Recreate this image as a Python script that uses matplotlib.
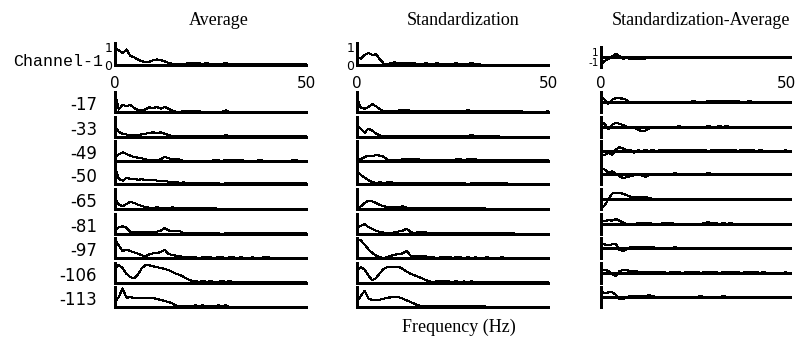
import numpy as np
import matplotlib
matplotlib.use("Agg")
import matplotlib.pyplot as plt

# frequency bins, 1 Hz
freq = np.arange(51)

channels = ["Channel-1", "-17", "-33", "-49", "-50", "-65", "-81", "-97", "-106", "-113"]

# normalised spectra (Average column)
average = [
    [.95, .8, .65, .85, .5, .42, .3, .2, .17, .18, .26, .3, .26, .2, .12, .06, .04, .04, .04, .1,
     .1, .1, .1, .04, .12, .04, .04, .04, .04, .12, .04, .04, .04, .04, .04, .04, .04, .04, .04, .04,
     .04, .04, .04, .04, .04, .04, .04, .04, .04, .04, .04],
    [1.1, .15, .44, .34, .44, .24, .12, .08, .16, .28, .24, .3, .2, .3, .2, .08, .02, 0, .05, .05,
     .05, .05, .05, 0, 0, 0, 0, 0, 0, .1, 0, 0, 0, 0, 0, 0, 0, 0, 0, 0,
     0, 0, 0, 0, 0, 0, 0, 0, 0, 0, 0],
    [.6, .32, .18, .15, .12, .1, .12, .16, .2, .24, .28, .24, .28, .2, .12, .04, .04, .04, .04, .04,
     .04, .04, .04, .04, .04, .04, .04, .04, .04, .12, .04, .04, .04, .04, .04, .04, .04, .04, .04, .04,
     .04, .04, .04, .04, .04, .04, .04, .04, .04, .04, .04],
    [.2, .4, .52, .42, .32, .24, .2, .16, .1, .05, .05, .05, .1, .26, .16, .12, .14, .08, 0, 0,
     0, 0, 0, 0, 0, 0, .05, .05, 0, .05, .05, .05, .05, .08, 0, 0, 0, 0, .08, 0,
     0, 0, 0, 0, 0, 0, 0, .08, 0, 0, 0],
    [1.05, .3, .2, .36, .32, .3, .26, .28, .24, .24, .26, .2, .2, .18, .14, .08, .12, .06, .1, .04,
     .04, .04, .04, .04, .04, .04, .04, .04, 0, .04, .04, .04, .04, .04, .04, .04, .04, .04, .04, .04,
     .04, .04, .04, .04, .04, .04, .04, .04, .04, .04, .04],
    [.6, .28, .16, .3, .44, .36, .26, .18, .12, .08, .05, .1, .05, .08, .05, .1, .05, .05, .08, .05,
     .05, .08, .05, .08, .05, .05, .05, 0, 0, 0, 0, 0, 0, 0, 0, 0, 0, 0, 0, 0,
     0, 0, 0, 0, 0, 0, 0, 0, 0, 0, 0],
    [.25, .4, .46, .38, .14, .14, .14, .14, .14, .14, .14, .14, .2, .36, .22, .16, .16, .16, .04, .04,
     .04, .04, .04, .04, .04, .04, .04, .04, 0, .04, .04, .04, .04, .04, .04, .04, .04, .04, .04, .04,
     .04, .04, .04, .04, .04, .04, .04, .04, .04, .04, .04],
    [1.1, .75, .42, .5, .42, .34, .26, .16, .1, .22, .28, .3, .36, .5, .24, .18, .14, .1, .06, .04,
     .04, .04, 0, .04, .04, .04, 0, .04, .04, 0, .04, .04, 0, .04, 0, 0, .04, 0, 0, .04,
     .04, 0, 0, 0, 0, 0, 0, 0, 0, 0, 0],
    [.9, 1.08, .9, .55, .36, .28, .5, .88, 1.08, 1.06, 1.0, .95, .9, .84, .78, .66, .56, .48, .36, .24,
     .14, .12, .06, .12, .06, .12, .06, .06, .12, .06, .12, .04, .04, .04, .04, .04, .04, .04, .04, .04,
     .04, .04, .04, .04, .04, .04, .04, .04, .04, .04, .04],
    [.3, .6, 1.12, .56, .58, .56, .54, .52, .54, .56, .54, .48, .42, .36, .3, .22, .08, .04, .04, .04,
     .04, .1, .04, .1, .04, .04, .04, .1, .04, .1, 0, 0, 0, 0, 0, 0, 0, 0, 0, 0,
     0, 0, 0, 0, 0, 0, 0, 0, 0, 0, 0],
]

# normalised spectra (Standardization column)
standardization = [
    [.45, .35, .55, .65, .55, .58, .3, .08, .02, .12, .14, .1, .1, .1, .1, .1, .04, .04, .1, .04,
     .04, .1, .04, .04, .04, .04, .1, .04, .04, .04, .12, .04, .04, 0, 0, 0, 0, 0, 0, 0,
     0, 0, 0, 0, 0, 0, 0, 0, 0, 0, 0],
    [.85, .24, .2, .3, .48, .34, .16, .04, .04, .08, .04, .1, .12, .1, .08, .04, .04, .04, .04, .04,
     .04, .04, .04, .04, .04, .04, .04, .04, .04, .12, .04, .04, .04, .04, .04, .04, .04, .04, .04, .04,
     .04, .04, .04, .04, 0, 0, 0, 0, 0, 0, .04],
    [.7, .5, .26, .5, .38, .2, .1, .04, .04, .08, .04, .04, .04, .04, .04, .04, .08, .04, .04, .04,
     .04, .04, .04, .08, .04, .04, .04, .04, .04, .04, .12, .04, .04, .04, .08, .04, .04, .04, 0, 0,
     0, 0, 0, 0, 0, 0, 0, 0, 0, 0, 0],
    [.04, .1, .24, .32, .28, .36, .32, .26, .06, .04, .04, .04, .1, .1, .1, .1, .1, .04, .04, .04,
     .04, .04, .04, .04, .04, .04, .1, .1, .04, .1, .1, .1, .04, .04, .04, .04, .04, .04, .04, .04,
     .04, .04, .04, .04, .04, .04, .04, .04, .04, .04, .04],
    [.8, .55, .38, .22, .12, .06, .1, .06, .1, .1, .04, .04, .04, .04, .04, .04, .04, .04, .04, .04,
     .08, .04, .04, .08, .04, .04, .04, .04, .04, 0, .04, .04, .04, .04, .04, .04, .04, .04, .04, .04,
     0, 0, 0, 0, 0, 0, 0, 0, 0, 0, 0],
    [.04, .16, .36, .5, .46, .36, .24, .16, .12, .12, .12, .12, .16, .08, .04, .04, .04, .04, .04, .04,
     .04, .04, .04, .04, .04, .04, .04, .04, .04, .04, .04, .04, .04, .08, 0, 0, 0, 0, 0, 0,
     0, 0, 0, 0, 0, 0, 0, 0, 0, 0, 0],
    [.36, .5, .58, .42, .3, .2, .12, .08, .04, .06, .1, .16, .2, .32, .12, .06, .1, .1, .1, .04,
     .04, .04, .04, .04, .04, .04, .04, .04, .04, .04, .04, .04, .04, .04, .04, .04, .04, .04, .04, .04,
     .04, .04, 0, 0, 0, 0, 0, 0, 0, 0, 0],
    [1.15, 1.05, .8, .52, .3, .14, .04, 0, .06, .14, .2, .24, .28, .44, .14, .1, .1, .1, .1, .04,
     .04, 0, .04, .04, .08, 0, .04, .04, 0, .04, 0, .04, 0, 0, .04, 0, 0, 0, .04, 0,
     0, 0, 0, 0, 0, 0, 0, 0, 0, 0, 0],
    [.7, .95, .8, .45, .16, .3, .6, .85, .96, .98, .98, .96, .84, .68, .56, .46, .38, .28, .18, .1,
     .06, .1, .1, .1, .1, .06, .1, .04, .1, .04, .1, .04, .04, .04, .04, .04, .04, .04, .04, .04,
     .04, .04, .04, .04, .04, .04, .04, .04, .04, .04, .04],
    [.3, .65, .98, .5, .42, .4, .44, .5, .56, .58, .58, .58, .5, .4, .3, .2, .1, .06, .04, .04,
     .04, .04, .04, .04, .04, .04, .04, .08, .04, .04, .08, .04, .04, .08, 0, 0, 0, 0, 0, 0,
     0, 0, 0, 0, 0, 0, 0, 0, 0, 0, 0],
]

# difference (Standardization - Average)
std_minus_avg = [
    [-1.4, -.8, -.4, .1, .65, .2, -.35, -.2, -.4, -.4, -.4, -.4, -.3, -.2, -.2, -.2, -.2, 0, -.2, -.2,
     -.2, -.2, -.2, -.2, 0, 0, 0, 0, 0, 0, 0, 0, 0, -.2, 0, 0, -.2, 0, -.2, 0,
     0, 0, 0, 0, 0, 0, 0, 0, 0, 0, 0],
    [1.2, .5, -.4, .5, .85, .8, .75, .4, -.2, -.2, -.2, -.2, -.2, 0, 0, 0, 0, 0, 0, 0,
     0, 0, 0, 0, 0, .2, 0, 0, 0, .2, .2, .2, .2, .2, .2, .2, .2, .2, 0, 0,
     .2, 0, 0, 0, 0, 0, 0, 0, 0, 0, 0],
    [1.2, .7, -.5, .5, .95, .7, .4, 0, -.2, -.2, -.6, -.9, -.8, -.3, -.2, -.2, 0, -.2, -.2, 0,
     -.2, .2, 0, 0, 0, 0, 0, 0, 0, .2, 0, 0, .2, 0, .2, 0, 0, 0, 0, 0,
     0, 0, 0, 0, 0, 0, 0, 0, 0, 0, 0],
    [-.7, -.9, -.4, -.8, .3, .85, .55, .2, .2, -.4, .2, 0, .2, 0, .2, 0, .2, .2, .2, .2,
     .2, .2, .2, .2, .2, .2, .2, .2, .2, 0, .2, .2, .2, .2, .2, .2, .2, 0, .2, .2,
     .2, .2, 0, .2, 0, 0, 0, 0, 0, 0, .2],
    [1.3, 1.0, .2, .6, .1, -.5, -.9, -.7, -.4, -.3, -.3, -.3, -.6, -.2, 0, 0, 0, 0, 0, 0,
     .2, 0, 0, 0, 0, 0, 0, 0, 0, .2, 0, 0, 0, 0, 0, 0, 0, 0, 0, 0,
     0, 0, 0, 0, 0, 0, 0, 0, 0, 0, 0],
    [-1.9, -1.4, 0, 1.2, 1.35, 1.3, 1.15, .8, .5, .5, .5, .45, .5, .2, 0, 0, -.2, -.2, 0, 0,
     0, 0, 0, 0, 0, 0, 0, 0, 0, 0, 0, 0, 0, 0, 0, 0, 0, 0, 0, 0,
     0, 0, 0, 0, 0, 0, 0, 0, 0, 0, 0],
    [.9, .6, .9, .7, 1.1, .7, .35, 0, 0, 0, .2, .2, .2, .2, 0, 0, 0, .2, .2, .2,
     0, 0, 0, 0, 0, 0, 0, 0, .2, .4, .2, .2, 0, .2, 0, .2, 0, 0, 0, 0,
     0, 0, 0, 0, 0, 0, 0, 0, 0, 0, 0],
    [1.0, .8, .6, .8, .85, -.4, -.65, -.3, .2, .2, .2, .2, .2, .2, .2, 0, 0, -.2, 0, 0,
     .2, 0, 0, -.2, -.2, -.2, -.2, -.2, 0, -.2, 0, -.2, 0, -.2, 0, 0, 0, 0, 0, 0,
     0, 0, 0, 0, 0, 0, 0, 0, 0, 0, 0],
    [.8, .6, .5, -.3, -.6, .4, .7, .6, .4, .4, .3, .2, .2, .2, .2, .2, .2, .2, 0, .2,
     .2, .2, 0, .2, .2, .2, .2, 0, .2, .2, .2, .2, 0, .2, .2, .2, .2, .2, 0, .2,
     .2, .2, .2, 0, .2, 0, 0, 0, 0, 0, .2],
    [1.3, .8, 1.0, 1.05, .5, -.4, -.5, 0, .2, .2, .2, .2, .2, .4, .2, 0, 0, 0, 0, 0,
     0, 0, 0, 0, 0, 0, 0, .2, 0, 0, 0, 0, 0, .2, 0, 0, 0, 0, 0, 0,
     0, 0, 0, 0, 0, 0, 0, 0, 0, 0, 0],
]

titles = ["Average", "Standardization", "Standardization-Average"]
columns = [average, standardization, std_minus_avg]

W, H = 798, 345
fig = plt.figure(figsize=(W / 100, H / 100), dpi=100)

# pixel layout of the panels
col_x = [(115, 306), (357, 548), (601, 792)]
col_xmax = [50, 50, 51.6]
row_bottom = [65, 112, 137, 161, 184, 209, 234, 258, 283, 307]
title_x = [219, 463, 701]


def px_axes(x0, x1, top, bottom):
    return fig.add_axes([x0 / W, 1 - bottom / H, (x1 - x0) / W, (bottom - top) / H])


for c, data in enumerate(columns):
    x0, x1 = col_x[c]
    for r, vals in enumerate(data):
        b = row_bottom[r]
        if c == 2 and r == 0:
            ax = px_axes(x0, x1, 47, 67)
        elif r == 0:
            ax = px_axes(x0, x1, 43, b)
        else:
            ax = px_axes(x0, x1, b - 20, b)
        ax.set_facecolor("none")
        ax.plot(freq, vals, color="black", lw=0.8, antialiased=False, clip_on=False)
        ax.set_xlim(0, col_xmax[c])
        for s in ["top", "right"]:
            ax.spines[s].set_visible(False)
        ax.spines["left"].set_linewidth(0.9)
        ax.spines["left"].set_antialiased(False)
        if c == 2:
            ax.set_ylim(-2.2, 2.2) if r else ax.set_ylim(-2, 2)
            ax.spines["bottom"].set_visible(False)
            ax.axhline(0, color="black", lw=0.9, antialiased=False)
        else:
            ax.set_ylim(0, 1.2)
            ax.spines["bottom"].set_linewidth(0.9)
            ax.spines["bottom"].set_antialiased(False)
        ax.tick_params(length=0)
        if r == 0:
            ax.set_xticks([0, 50])
            ax.set_xticklabels(["0", "50"], fontsize=11, family="DejaVu Sans")
            ax.tick_params(axis="x", pad=8 if c < 2 else 6.5)
            if c == 2:
                ax.set_yticks([-1, 1])
                ax.set_yticklabels(["-1", "1"], fontsize=7.5, family="DejaVu Sans")
                ax.tick_params(axis="y", pad=1.5)
            else:
                ax.set_yticks([0, 1])
                ax.set_yticklabels(["0", "1"], fontsize=9, family="DejaVu Sans")
                ax.tick_params(axis="y", pad=2)
        else:
            ax.set_xticks([])
            ax.set_yticks([])

    fig.text(title_x[c] / W, 1 - 25 / H, titles[c], ha="center", va="baseline",
             fontsize=13, family="Liberation Serif")

# channel labels
fig.text(103 / W, 1 - 61 / H, channels[0], ha="right", va="center",
         fontsize=12, family="Liberation Mono")
for r in range(1, len(channels)):
    fig.text(97 / W, 1 - (row_bottom[r] - 7) / H, channels[r], ha="right", va="center",
             fontsize=12, family="DejaVu Sans")

fig.text(459 / W, 1 - 332 / H, "Frequency (Hz)", ha="center", va="baseline",
         fontsize=13, family="Liberation Serif")

fig.savefig("out.png", dpi=100)
